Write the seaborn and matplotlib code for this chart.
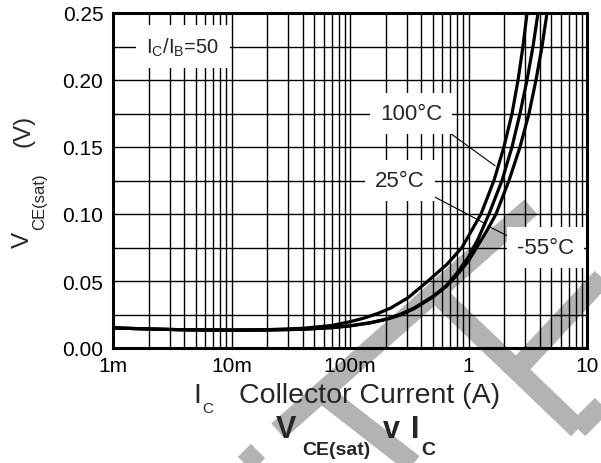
import numpy as np
import pandas as pd
import matplotlib
matplotlib.use("Agg")
import matplotlib.pyplot as plt
from matplotlib.lines import Line2D
from matplotlib.ticker import FixedLocator, LogLocator, NullFormatter
import seaborn as sns

sns.set_theme(style="white")
plt.rcParams["font.family"] = ["Liberation Sans", "DejaVu Sans"]

# ── data (Ic in A, Vce(sat) in V) ──
ic_100 = [0.001, 0.002, 0.004, 0.01, 0.02, 0.04, 0.07, 0.1, 0.13, 0.172, 0.22, 0.309,
          0.455, 0.659, 0.881, 1.275, 1.64, 1.99, 2.33, 2.62, 2.88, 3.12]
vce_100 = [0.0150, 0.0142, 0.0136, 0.0134, 0.0137, 0.0147, 0.0168, 0.0196, 0.0222, 0.0258,
           0.0298, 0.0375, 0.0500, 0.0625, 0.0750, 0.1000, 0.1250, 0.1500, 0.1750, 0.2000,
           0.2250, 0.2500]

ic_25 = [0.001, 0.002, 0.004, 0.01, 0.02, 0.04, 0.07, 0.1, 0.15, 0.2, 0.264, 0.35, 0.5,
         0.65, 0.8, 1.0, 1.2, 1.489, 1.918, 2.328, 2.72, 3.117, 3.502, 3.86]
vce_25 = [0.0150, 0.0142, 0.0136, 0.0133, 0.0134, 0.0140, 0.0152, 0.0165, 0.0190, 0.0215,
          0.0250, 0.0300, 0.0385, 0.0465, 0.0560, 0.0680, 0.0810, 0.1000, 0.1250, 0.1500,
          0.1750, 0.2000, 0.2250, 0.2500]

ic_m55 = [0.001, 0.002, 0.004, 0.01, 0.02, 0.04, 0.07, 0.1, 0.15, 0.2, 0.264, 0.35, 0.5,
          0.65, 0.8, 1.0, 1.2, 1.45, 1.707, 2.197, 2.72, 3.24, 3.712, 4.173, 4.597]
vce_m55 = [0.0150, 0.0142, 0.0136, 0.0133, 0.0134, 0.0140, 0.0152, 0.0165, 0.0188, 0.0212,
           0.0245, 0.0295, 0.0380, 0.0460, 0.0545, 0.0650, 0.0765, 0.0885, 0.1000, 0.1250,
           0.1500, 0.1750, 0.2000, 0.2250, 0.2500]

temps = ["100°C", "25°C", "-55°C"]

x_ticks = [1e-3, 1e-2, 1e-1, 1, 10]
x_tick_labels = ["1m", "10m", "100m", "1", "10"]
y_ticks = [0.0, 0.05, 0.10, 0.15, 0.20, 0.25]
y_tick_labels = ["0.00", "0.05", "0.10", "0.15", "0.20", "0.25"]
y_minor = [0.025, 0.075, 0.125, 0.175, 0.225]

# curve labels: position of the boxed text, and where its leader meets the curve
label_x = [0.327, 0.264, 4.43]
label_y = [0.175, 0.125, 0.075]
leader_from = [(0.659, 0.162), (0.501, 0.1134), (2.42, 0.0813)]
leader_to = [(1.675, 0.136), (1.406, 0.0925), (1.46, 0.091)]

W, H = 601, 464


def px(x, y):
    """pixel position (y from top) -> figure fraction"""
    return x / W, 1 - y / H


fig = plt.figure(figsize=(W / 100, H / 100), dpi=100)

# grey watermark stripes behind everything (pixel endpoints)
stripes = [((278, 432), (531, 208)),
           ((232, 478), (258, 452)),
           ((322, 394), (430, 478)),
           ((435, 293), (578, 430)),
           ((578, 430), (615, 393)),
           ((612, 268), (517, 370))]
for (x0, y0), (x1, y1) in stripes:
    a, b = px(x0, y0), px(x1, y1)
    fig.add_artist(Line2D([a[0], b[0]], [a[1], b[1]], transform=fig.transFigure,
                          color="#b3b3b3", lw=14.5, solid_capstyle="butt", zorder=-5))

l, b_ = px(113, 349)
r, t = px(587, 14)
ax = fig.add_axes([l, b_, r - l, t - b_])
ax.set_facecolor("none")

df = pd.concat([
    pd.DataFrame({"current": ic_100, "vce": vce_100, "temp": temps[0]}),
    pd.DataFrame({"current": ic_25, "vce": vce_25, "temp": temps[1]}),
    pd.DataFrame({"current": ic_m55, "vce": vce_m55, "temp": temps[2]}),
])
sns.lineplot(data=df, x="current", y="vce", hue="temp", units="temp", estimator=None,
             palette={tt: "black" for tt in temps}, legend=False, linewidth=2.3,
             sort=False, ax=ax, zorder=3)

ax.set_xscale("log")
ax.set_xlim(1e-3, 10)
ax.set_ylim(0, 0.25)
ax.xaxis.set_major_locator(FixedLocator(x_ticks))
ax.set_xticklabels(x_tick_labels)
ax.xaxis.set_minor_locator(LogLocator(base=10, subs=np.arange(2, 10)))
ax.xaxis.set_minor_formatter(NullFormatter())
ax.set_yticks(y_ticks)
ax.set_yticklabels(y_tick_labels)
ax.set_yticks(y_minor, minor=True)
ax.set_axisbelow(True)
ax.grid(which="both", color="black", linewidth=1.0)
ax.tick_params(which="both", length=0, labelsize=15, colors="black")
ax.tick_params(axis="x", pad=6)
ax.tick_params(axis="y", pad=7)
for sp in ax.spines.values():
    sp.set_color("black")
    sp.set_linewidth(2.2)
ax.set_xlabel("")
ax.set_ylabel("")

box = dict(boxstyle="square,pad=0.45", fc="white", ec="none")
ax.text(0.0039, 0.225, r"$\mathregular{I_C/I_B}$=50", fontsize=14.5, ha="center",
        va="center", bbox=dict(boxstyle="square,pad=0.5", fc="white", ec="none"), zorder=5)
for txt, lx, ly, p0, p1 in zip(temps, label_x, label_y, leader_from, leader_to):
    ax.annotate("", xy=p1, xytext=p0,
                arrowprops=dict(arrowstyle="-", lw=0.8, color="black",
                                shrinkA=0, shrinkB=0), zorder=4)
    ax.text(lx, ly, txt, fontsize=16, ha="center", va="center", bbox=box, zorder=5)

# axis labels, written piece by piece for the low subscripts
fig.text(*px(193, 403), "I", fontsize=20.5, ha="left", va="baseline")
fig.text(*px(202, 413), "C", fontsize=11, ha="left", va="baseline")
fig.text(*px(239, 403), "Collector Current (A)", fontsize=20.5, ha="left", va="baseline")

fig.text(*px(29, 248), "V", fontsize=17.5, rotation=90, rotation_mode="anchor",
         ha="left", va="baseline")
fig.text(*px(44, 230), "CE(sat)", fontsize=12, rotation=90, rotation_mode="anchor",
         ha="left", va="baseline")
fig.text(*px(30, 147), "(V)", fontsize=17.5, rotation=90, rotation_mode="anchor",
         ha="left", va="baseline")

# chart title under the axis label
fig.text(*px(276, 438), "V", fontsize=22, fontweight="bold", ha="left", va="baseline")
fig.text(*px(302, 455), "CE(sat)", fontsize=14, fontweight="bold", ha="left", va="baseline")
fig.text(*px(383, 438), "v", fontsize=22, fontweight="bold", ha="left", va="baseline")
fig.text(*px(411, 438), "I", fontsize=22, fontweight="bold", ha="left", va="baseline")
fig.text(*px(421, 455), "C", fontsize=14, fontweight="bold", ha="left", va="baseline")

fig.savefig("out.png", dpi=100, facecolor="white")
